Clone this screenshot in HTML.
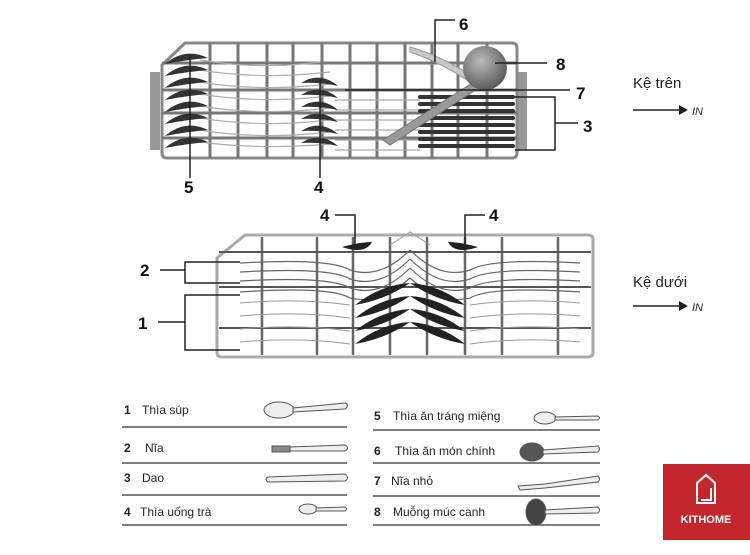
<!DOCTYPE html>
<html><head><meta charset="utf-8"><style>
body{margin:0;background:#fff;width:750px;height:550px;overflow:hidden;font-family:"Liberation Sans",sans-serif}
</style></head><body>
<svg width="750" height="550" viewBox="0 0 750 550" xmlns="http://www.w3.org/2000/svg" font-family="Liberation Sans, sans-serif">
<defs>
<radialGradient id="ball" cx="0.4" cy="0.35" r="0.7"><stop offset="0" stop-color="#bbb"/><stop offset="1" stop-color="#555"/></radialGradient>
</defs>
<!-- TOP RACK -->
<rect x="150" y="72" width="10" height="78" fill="#999"/>
<rect x="517" y="72" width="10" height="78" fill="#999"/>
<path d="M162 65 L185 43 L512 43 Q517 43 517 48 L517 153 Q517 158 512 158 L167 158 Q162 158 162 153 Z" fill="#fff" stroke="#888" stroke-width="3"/>
<g stroke="#777" stroke-width="3">
<line x1="210" y1="43" x2="210" y2="158"/><line x1="238" y1="43" x2="238" y2="158"/>
<line x1="267" y1="43" x2="267" y2="158"/><line x1="293" y1="43" x2="293" y2="158"/>
<line x1="322" y1="43" x2="322" y2="158"/><line x1="350" y1="43" x2="350" y2="158"/>
<line x1="377" y1="43" x2="377" y2="158"/><line x1="405" y1="43" x2="405" y2="158"/>
<line x1="432" y1="43" x2="432" y2="158"/><line x1="458" y1="43" x2="458" y2="158"/>
<line x1="487" y1="43" x2="487" y2="158"/>
<line x1="162" y1="63" x2="517" y2="63"/><line x1="162" y1="90" x2="517" y2="90"/>
<line x1="162" y1="113" x2="517" y2="113"/><line x1="162" y1="138" x2="517" y2="138"/>
</g>
<g stroke="#aaa" stroke-width="1.2" fill="none">
<path d="M200 60 Q260 70 320 62"/><path d="M200 70 Q260 80 330 72"/><path d="M200 82 Q260 92 330 84"/>
<path d="M200 94 Q260 104 330 96"/><path d="M200 106 Q260 116 330 108"/><path d="M200 118 Q260 128 330 120"/>
<path d="M200 130 Q260 140 330 132"/><path d="M200 142 Q260 150 330 144"/>
<path d="M335 100 L420 100"/><path d="M335 110 L420 110"/><path d="M335 120 L420 120"/><path d="M335 130 L420 130"/><path d="M335 140 L420 140"/><path d="M335 150 L420 150"/>
</g>
<g fill="#333">
<path d="M165 64 Q185 47 208 58 Q185 60 165 64Z"/><path d="M165 76 Q185 59 208 70 Q185 72 165 76Z"/>
<path d="M165 88 Q185 71 208 82 Q185 84 165 88Z"/><path d="M165 100 Q185 83 208 94 Q185 96 165 100Z"/>
<path d="M165 112 Q185 95 208 106 Q185 108 165 112Z"/><path d="M165 124 Q185 107 208 118 Q185 120 165 124Z"/>
<path d="M165 136 Q185 119 208 130 Q185 132 165 136Z"/><path d="M165 148 Q185 131 208 142 Q185 144 165 148Z"/>
<path d="M301 83 Q320 71 338 86 Q320 82 301 83Z"/><path d="M301 95 Q320 83 338 98 Q320 94 301 95Z"/>
<path d="M301 107 Q320 95 338 110 Q320 106 301 107Z"/><path d="M301 119 Q320 107 338 122 Q320 118 301 119Z"/>
<path d="M301 131 Q320 119 338 134 Q320 130 301 131Z"/><path d="M301 143 Q320 131 338 146 Q320 142 301 143Z"/>
</g>
<g stroke="#333" stroke-width="4" stroke-linecap="round">
<line x1="420" y1="97" x2="513" y2="97"/><line x1="420" y1="104" x2="513" y2="104"/><line x1="420" y1="111" x2="513" y2="111"/>
<line x1="420" y1="118" x2="513" y2="118"/><line x1="420" y1="125" x2="513" y2="125"/><line x1="420" y1="132" x2="513" y2="132"/>
<line x1="420" y1="139" x2="513" y2="139"/><line x1="420" y1="146" x2="513" y2="146"/>
</g>
<path d="M410 47 Q440 55 475 78 L470 82 Q440 62 410 52Z" fill="#c8c8c8" stroke="#999"/>
<path d="M383 140 L480 78 L485 84 L390 145Z" fill="#999" stroke="#777"/>
<circle cx="485" cy="68" r="22" fill="url(#ball)"/>
<g stroke="#222" stroke-width="1.5" fill="none">
<line x1="190" y1="55" x2="190" y2="178"/><line x1="320" y1="80" x2="320" y2="178"/>
<polyline points="435,62 435,20 455,20"/><line x1="495" y1="63" x2="547" y2="63"/>
<line x1="345" y1="90" x2="570" y2="90"/>
<polyline points="515,97 555,97 555,150 515,150"/><line x1="555" y1="123" x2="578" y2="123"/>
</g>
<g font-weight="bold" font-size="17" fill="#111">
<text x="184" y="193">5</text><text x="314" y="193">4</text><text x="459" y="30">6</text>
<text x="556" y="70">8</text><text x="576" y="99">7</text><text x="583" y="132">3</text>
</g>
<text x="633" y="88" font-size="15" fill="#222">Kệ trên</text>
<line x1="633" y1="110" x2="680" y2="110" stroke="#222" stroke-width="1.5"/>
<path d="M679 105 L688 110 L679 115Z" fill="#222"/>
<text x="692" y="115" font-size="11" font-style="italic" fill="#222">IN</text>

<!-- BOTTOM RACK -->
<path d="M217 258 L245 235 L588 235 Q593 235 593 240 L593 352 Q593 357 588 357 L222 357 Q217 357 217 352 Z" fill="#fff" stroke="#aaa" stroke-width="3"/>
<g stroke="#666" stroke-width="2.5">
<line x1="262" y1="237" x2="262" y2="355"/><line x1="317" y1="237" x2="317" y2="355"/>
<line x1="353" y1="237" x2="353" y2="355"/><line x1="390" y1="237" x2="390" y2="355"/>
<line x1="427" y1="237" x2="427" y2="355"/><line x1="465" y1="237" x2="465" y2="355"/>
<line x1="502" y1="237" x2="502" y2="355"/><line x1="558" y1="237" x2="558" y2="355"/>
<line x1="219" y1="252" x2="591" y2="252" stroke="#555" stroke-width="2"/>
<line x1="219" y1="287" x2="591" y2="287" stroke="#555" stroke-width="2"/>
<line x1="219" y1="328" x2="591" y2="328" stroke="#555" stroke-width="2"/>
</g>
<g stroke="#666" stroke-width="1.2" fill="none">
<path d="M240 263 Q330 258 350 270 Q380 280 410 250"/><path d="M240 272 Q330 267 350 279 Q380 289 410 259"/>
<path d="M240 281 Q330 276 350 288 Q380 298 410 268"/><path d="M240 292 Q330 286 350 298 Q380 305 410 278"/>
<path d="M580 263 Q490 258 470 270 Q440 280 410 250"/><path d="M580 272 Q490 267 470 279 Q440 289 410 259"/>
<path d="M580 281 Q490 276 470 288 Q440 298 410 268"/><path d="M580 292 Q490 286 470 298 Q440 305 410 278"/>
</g>
<g stroke="#999" stroke-width="1" fill="none">
<path d="M240 303 Q300 298 350 305"/><path d="M240 316 Q300 311 350 318"/><path d="M240 329 Q300 324 350 331"/><path d="M240 342 Q300 337 350 344"/>
<path d="M580 303 Q520 298 470 305"/><path d="M580 316 Q520 311 470 318"/><path d="M580 329 Q520 324 470 331"/><path d="M580 342 Q520 337 470 344"/>
<path d="M390 245 L410 232 L430 245"/>
</g>
<g fill="#222">
<path d="M355 305 Q380 285 410 283 Q385 300 355 305Z"/><path d="M355 318 Q380 298 410 296 Q385 313 355 318Z"/>
<path d="M355 331 Q380 311 410 309 Q385 326 355 331Z"/><path d="M355 344 Q380 324 410 322 Q385 339 355 344Z"/>
<path d="M465 305 Q440 285 410 283 Q435 300 465 305Z"/><path d="M465 318 Q440 298 410 296 Q435 313 465 318Z"/>
<path d="M465 331 Q440 311 410 309 Q435 326 465 331Z"/><path d="M465 344 Q440 324 410 322 Q435 339 465 344Z"/>
<path d="M342 247 Q360 242 372 242 Q365 255 342 247Z"/><path d="M478 247 Q460 242 448 242 Q455 255 478 247Z"/>
</g>
<g stroke="#222" stroke-width="1.5" fill="none">
<polyline points="335,215 355,215 355,247"/><polyline points="485,215 465,215 465,247"/>
<polyline points="240,262 185,262 185,283 240,283"/><line x1="160" y1="270" x2="185" y2="270"/>
<polyline points="240,295 185,295 185,350 240,350"/><line x1="158" y1="322" x2="185" y2="322"/>
</g>
<g font-weight="bold" font-size="17" fill="#111">
<text x="320" y="221">4</text><text x="489" y="221">4</text>
<text x="140" y="276">2</text><text x="138" y="329">1</text>
</g>
<text x="633" y="287" font-size="15" fill="#222">Kệ dưới</text>
<line x1="633" y1="306" x2="680" y2="306" stroke="#222" stroke-width="1.5"/>
<path d="M679 301 L688 306 L679 311Z" fill="#222"/>
<text x="692" y="311" font-size="11" font-style="italic" fill="#222">IN</text>

<!-- LEGEND -->
<g stroke="#555" stroke-width="1.5">
<line x1="122" y1="427" x2="347" y2="427"/><line x1="122" y1="463" x2="347" y2="463"/>
<line x1="122" y1="495" x2="347" y2="495"/><line x1="122" y1="525" x2="347" y2="525"/>
<line x1="373" y1="430" x2="600" y2="430"/><line x1="373" y1="463" x2="600" y2="463"/>
<line x1="373" y1="496" x2="600" y2="496"/><line x1="373" y1="525" x2="600" y2="525"/>
</g>
<g font-size="12" fill="#222">
<text x="124" y="414" font-weight="bold">1</text><text x="142" y="414">Thìa súp</text>
<text x="124" y="452" font-weight="bold">2</text><text x="145" y="452">Nĩa</text>
<text x="124" y="482" font-weight="bold">3</text><text x="142" y="482">Dao</text>
<text x="124" y="516" font-weight="bold">4</text><text x="140" y="516">Thìa uống trà</text>
<text x="374" y="420" font-weight="bold">5</text><text x="393" y="420">Thìa ăn tráng miệng</text>
<text x="374" y="455" font-weight="bold">6</text><text x="395" y="455">Thìa ăn món chính</text>
<text x="374" y="485" font-weight="bold">7</text><text x="391" y="485">Nĩa nhỏ</text>
<text x="374" y="516" font-weight="bold">8</text><text x="393" y="516">Muỗng múc canh</text>
</g>
<g stroke="#555" stroke-width="1" fill="#eee">
<ellipse cx="279" cy="410" rx="15" ry="8"/><path d="M293 408 L345 403 Q350 405 345 409 L293 412Z"/>
<path d="M272 446 L290 446 L290 452 L272 452Z" fill="#888"/><path d="M290 447 L345 445 Q350 448 345 451 L290 451Z"/>
<path d="M268 477 L345 474 Q350 478 345 481 L268 482Q264 479 268 477Z"/>
<ellipse cx="308" cy="509" rx="9" ry="5"/><path d="M316 508 L345 507 Q348 509 345 511 L316 511Z"/>
<ellipse cx="545" cy="418" rx="11" ry="6"/><path d="M555 417 L598 416 Q601 418 598 420 L555 420Z"/>
<ellipse cx="532" cy="452" rx="12" ry="9" fill="#555"/><path d="M543 450 L598 446 Q601 449 598 452 L543 454Z"/>
<path d="M518 486 L545 484 L598 476 Q601 479 598 482 L545 488 L520 490Z"/>
<ellipse cx="536" cy="512" rx="10" ry="13" fill="#444"/><path d="M545 510 L598 507 Q601 510 598 513 L545 514Z"/>
</g>
<!-- LOGO -->
<rect x="663" y="464" width="87" height="76" fill="#c4262e"/>
<g stroke="#fff" stroke-width="2" fill="none">
<path d="M697 503 L697 483 L706 475 L715 483 L715 503 Z"/><path d="M701 500 L711 500 L711 488"/>
</g>
<text x="706" y="523" font-size="11" font-weight="bold" fill="#fff" text-anchor="middle">KITHOME</text>
</svg>
</body></html>
